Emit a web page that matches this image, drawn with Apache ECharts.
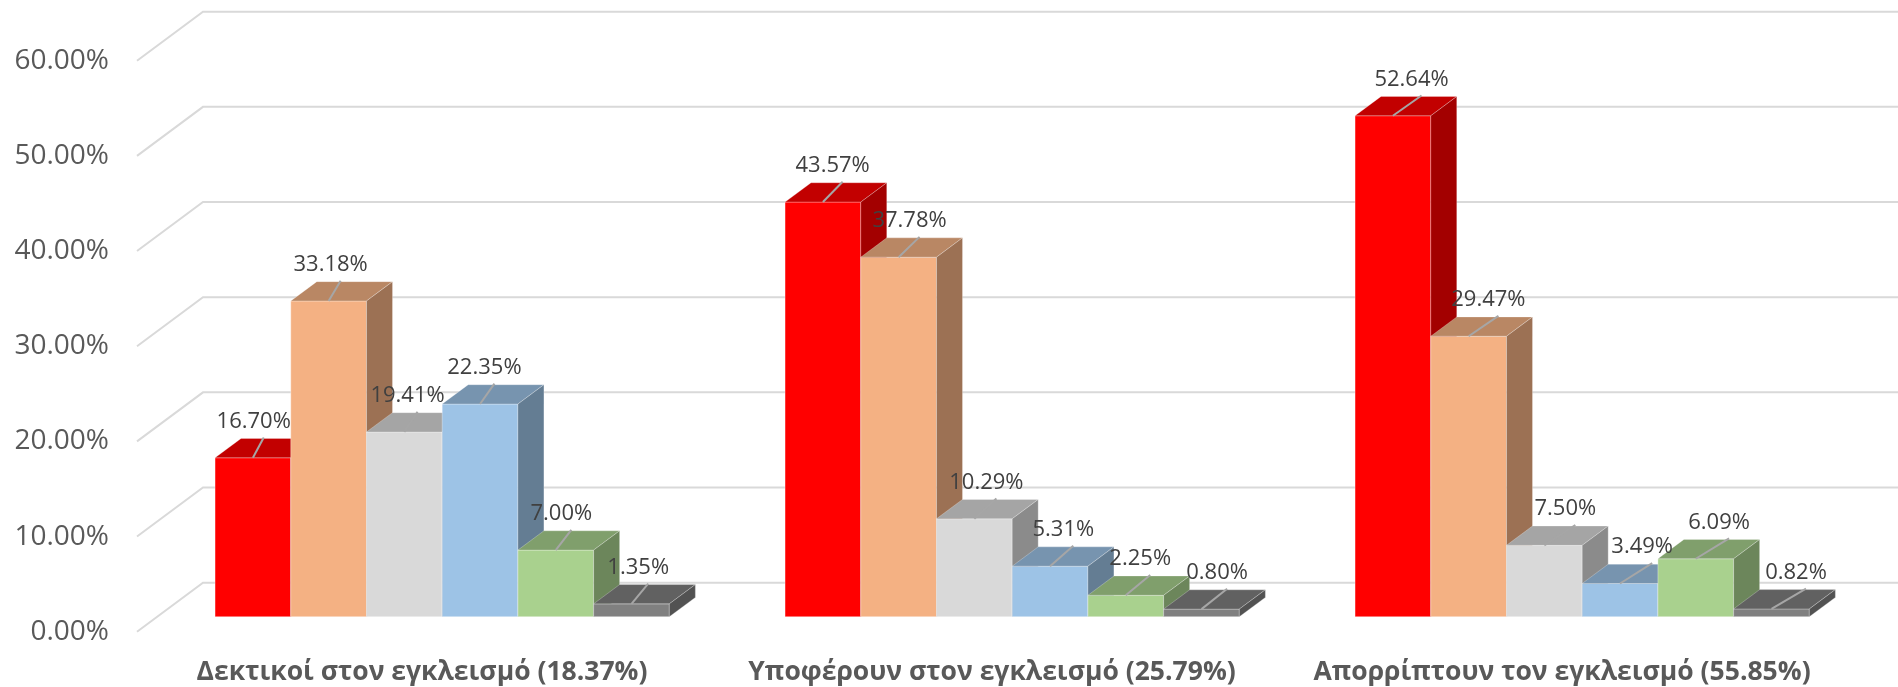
<!DOCTYPE html>
<html>
<head>
<meta charset="utf-8">
<script src="https://cdn.jsdelivr.net/npm/echarts@6/dist/echarts.min.js"></script>
<style>
  html, body { margin: 0; padding: 0; background: #ffffff; }
  #chart { width: 1898px; height: 687px; }
</style>
</head>
<body>
<div id="chart"></div>
<script>
// Categories along the floor
const categories = [
  'Δεκτικοί στον εγκλεισμό (18.37%)',
  'Υποφέρουν στον εγκλεισμό (25.79%)',
  'Απορρίπτουν τον εγκλεισμό (55.85%)'
];

// One array per answer group (percent values)
const seriesNames = ['Ομάδα 1', 'Ομάδα 2', 'Ομάδα 3', 'Ομάδα 4', 'Ομάδα 5', 'Ομάδα 6'];
const group1 = [16.70, 43.57, 52.64];
const group2 = [33.18, 37.78, 29.47];
const group3 = [19.41, 10.29, 7.50];
const group4 = [22.35, 5.31, 3.49];
const group5 = [7.00, 2.25, 6.09];
const group6 = [1.35, 0.80, 0.82];
const seriesValues = [group1, group2, group3, group4, group5, group6];

// Value axis ticks
const yTicks = [0, 10, 20, 30, 40, 50, 60];

// Front-face colours of the columns
const frontColors = ['#FF0000', '#F4B183', '#D9D9D9', '#9DC3E6', '#A9D18E', '#808080'];

// Oblique projection of the floor depth (pixels)
const DEPTH_X = 66, DEPTH_Y = -49;
const FRONT_T = 0.306;   // columns start this far back on the floor
const BAR_T = 0.394;     // column depth as a share of the floor depth
const GROUP_SHARE = 0.797; // share of a category slot taken by the columns

function shade(hex, k) {
  const n = parseInt(hex.slice(1), 16);
  const r = Math.round(((n >> 16) & 255) * k);
  const g = Math.round(((n >> 8) & 255) * k);
  const b = Math.round((n & 255) * k);
  return 'rgb(' + r + ',' + g + ',' + b + ')';
}

function columnGeom(api, si) {
  const ci = api.value(0);
  const v = api.value(1);
  const base = api.coord([ci, 0]);
  const top = api.coord([ci, v]);
  const slot = api.size([1, 0])[0];
  const groupW = slot * GROUP_SHARE;
  const bw = groupW / seriesValues.length;
  const fx = DEPTH_X * FRONT_T, fy = DEPTH_Y * FRONT_T;
  const L = base[0] - groupW / 2 + si * bw + fx;
  const R = L + bw;
  return {
    L: L, R: R, bw: bw,
    top: top[1] + fy, bottom: base[1] + fy,
    bx: DEPTH_X * BAR_T, by: DEPTH_Y * BAR_T
  };
}

function barSeries(si) {
  const color = frontColors[si];
  return {
    type: 'custom',
    name: seriesNames[si],
    z: 2 + si,
    data: seriesValues[si].map((v, i) => [i, v]),
    renderItem: function (params, api) {
      const g = columnGeom(api, si);
      return {
        type: 'group',
        children: [
          { // front face
            type: 'rect',
            shape: { x: g.L, y: g.top, width: g.bw, height: g.bottom - g.top },
            style: { fill: color, stroke: 'rgba(255,255,255,0.35)', lineWidth: 1 }
          },
          { // top face
            type: 'polygon',
            shape: { points: [[g.L, g.top], [g.L + g.bx, g.top + g.by], [g.R + g.bx, g.top + g.by], [g.R, g.top]] },
            style: { fill: shade(color, 0.76), stroke: 'rgba(255,255,255,0.25)', lineWidth: 1 }
          },
          { // right side face
            type: 'polygon',
            shape: { points: [[g.R, g.top], [g.R + g.bx, g.top + g.by], [g.R + g.bx, g.bottom + g.by], [g.R, g.bottom]] },
            style: { fill: shade(color, 0.64), stroke: 'rgba(255,255,255,0.25)', lineWidth: 1 }
          }
        ]
      };
    }
  };
}

function labelSeries(si) {
  return {
    type: 'custom',
    name: seriesNames[si],
    z: 20,
    silent: true,
    data: seriesValues[si].map((v, i) => [i, v]),
    renderItem: function (params, api) {
      const g = columnGeom(api, si);
      const cx = (g.L + g.R) / 2;
      const v = api.value(1);
      // labels drift rightwards across the plot, following the view angle
      const drift = Math.max(0, (cx - 200) * 0.0156);
      const lx = cx + drift;
      const ly = g.top + g.by - 2;
      return {
        type: 'group',
        children: [
          { // leader line from the column top to its label
            type: 'line',
            shape: { x1: cx, y1: g.top, x2: lx + 10, y2: ly + 1 },
            style: { stroke: '#A6A6A6', lineWidth: 2 }
          },
          {
            type: 'text',
            style: {
              x: lx,
              y: ly - 4,
              text: v.toFixed(2) + '%',
              fill: '#404040',
              font: '22px "Open Sans"',
              align: 'center',
              verticalAlign: 'bottom'
            }
          }
        ]
      };
    }
  };
}

// Side wall gridlines: diagonal from the value labels to the back wall, then along it
const wallSeries = {
  type: 'custom',
  z: 1,
  silent: true,
  data: yTicks.map(v => [0, v]),
  renderItem: function (params, api) {
    const cs = params.coordSys;
    const y = api.coord([0, api.value(1)])[1];
    return {
      type: 'polyline',
      shape: { points: [[cs.x, y], [cs.x + DEPTH_X, y + DEPTH_Y], [cs.x + cs.width + DEPTH_X + 20, y + DEPTH_Y]] },
      style: { stroke: '#D9D9D9', lineWidth: 2, fill: null }
    };
  }
};

const series = [wallSeries];
for (let i = 0; i < seriesValues.length; i++) series.push(barSeries(i));
for (let i = 0; i < seriesValues.length; i++) series.push(labelSeries(i));

const chart = echarts.init(document.getElementById('chart'), null, { renderer: 'canvas' });
chart.setOption({
  backgroundColor: '#ffffff',
  animation: false,
  grid: { left: 137, right: 51, top: 60.7, bottom: 55.3, containLabel: false },
  xAxis: {
    type: 'category',
    data: categories,
    axisLine: { show: false },
    axisTick: { show: false },
    axisLabel: {
      interval: 0,
      margin: 27,
      color: '#595959',
      fontFamily: 'Open Sans',
      fontWeight: 'bold',
      fontSize: 26.5
    }
  },
  yAxis: {
    type: 'value',
    min: 0,
    max: 60,
    interval: 10,
    axisLine: { show: false },
    axisTick: { show: false },
    splitLine: { show: false },
    axisLabel: {
      margin: 28,
      color: '#595959',
      fontFamily: 'Open Sans',
      fontSize: 28,
      formatter: v => v.toFixed(2) + '%'
    }
  },
  series: series
});
</script>
</body>
</html>
